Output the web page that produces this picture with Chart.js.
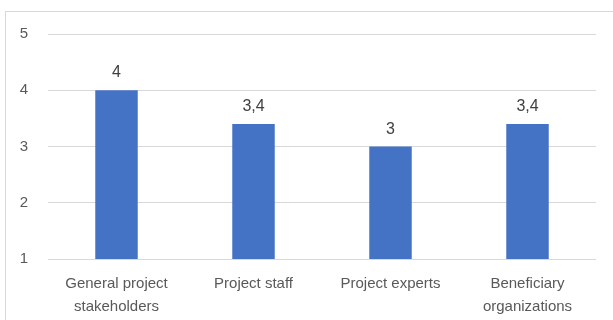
<!DOCTYPE html>
<html>
<head>
<meta charset="utf-8">
<script src="https://cdn.jsdelivr.net/npm/chart.js@4"></script>
<style>
  html, body { margin: 0; padding: 0; background: #fff; }
  #wrap { position: relative; width: 613px; height: 320px; overflow: hidden; }
  #frame { position: absolute; left: 5px; top: 11px; width: 700px; height: 400px; border: 1px solid #d9d9d9; box-sizing: border-box; }
  #chart { position: absolute; left: 0; top: 0; }
</style>
</head>
<body>
<div id="wrap">
  <div id="frame"></div>
  <canvas id="chart" width="613" height="320"></canvas>
</div>
<script>
const categories = [
  ["General project", "stakeholders"],
  "Project staff",
  "Project experts",
  ["Beneficiary", "organizations"]
];
const scores = [4, 3.4, 3, 3.4];
const yTicks = [1, 2, 3, 4, 5];

const formatValue = (v) => String(v).replace('.', ',');

const barLabels = {
  id: 'barLabels',
  afterDatasetsDraw(chart) {
    const ctx = chart.ctx;
    const meta = chart.getDatasetMeta(0);
    ctx.save();
    ctx.font = '16px "Liberation Sans", Arial, sans-serif';
    ctx.fillStyle = '#404040';
    ctx.textAlign = 'center';
    ctx.textBaseline = 'alphabetic';
    meta.data.forEach((bar, i) => {
      ctx.fillText(formatValue(scores[i]), bar.x, bar.y - 13);
    });
    ctx.restore();
  }
};

new Chart(document.getElementById('chart'), {
  type: 'bar',
  data: {
    labels: categories,
    datasets: [{
      data: scores,
      backgroundColor: '#4472C4',
      categoryPercentage: 1,
      barPercentage: 0.31
    }]
  },
  options: {
    responsive: false,
    animation: false,
    layout: { padding: { top: 34, right: 17, left: 0, bottom: 0 } },
    plugins: { legend: { display: false }, tooltip: { enabled: false } },
    scales: {
      y: {
        min: yTicks[0],
        max: yTicks[yTicks.length - 1],
        afterBuildTicks(axis) { axis.ticks = yTicks.map(v => ({ value: v })); },
        afterFit(axis) { axis.width = 48; },
        border: { display: false },
        grid: { color: '#d9d9d9', lineWidth: 1, drawTicks: false },
        ticks: {
          color: '#595959',
          padding: 20,
          font: { family: '"Liberation Sans", Arial, sans-serif', size: 15 }
        }
      },
      x: {
        afterFit(axis) { axis.height = 61; },
        border: { display: false },
        grid: { display: false, drawTicks: false },
        ticks: {
          color: '#595959',
          padding: 14,
          maxRotation: 0,
          autoSkip: false,
          font: { family: '"Liberation Sans", Arial, sans-serif', size: 15, lineHeight: 1.5 }
        }
      }
    }
  },
  plugins: [barLabels]
});
</script>
</body>
</html>
